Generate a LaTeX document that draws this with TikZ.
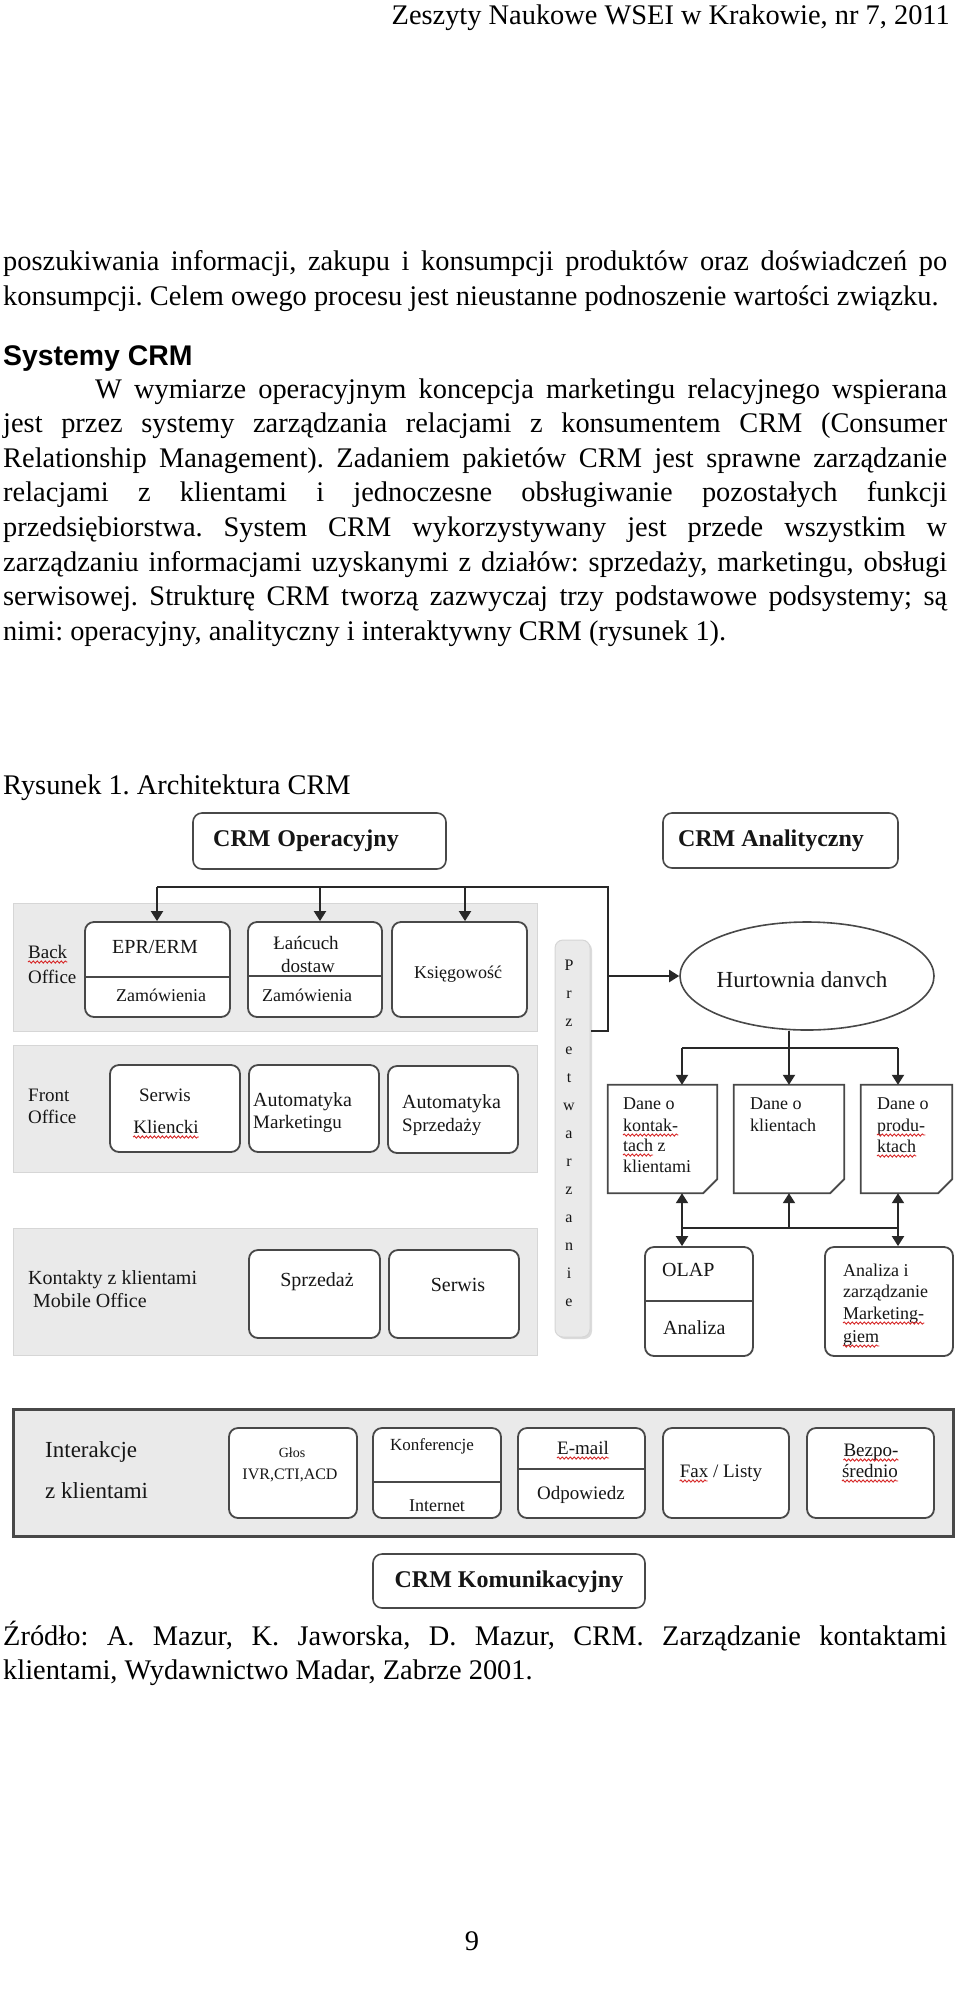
\documentclass[tikz,border=0pt]{standalone}
\usepackage{fontspec}
\setmainfont{Liberation Serif}
\newfontfamily\sansfam{Liberation Sans}
\usetikzlibrary{arrows.meta,shapes.geometric,decorations.pathmorphing}
\definecolor{spellred}{RGB}{215,40,40}
\definecolor{bandfill}{RGB}{234,234,234}
\definecolor{bandline}{RGB}{214,214,214}
\definecolor{boxline}{RGB}{72,72,72}
\definecolor{conline}{RGB}{40,40,40}
\definecolor{txtc}{RGB}{22,22,22}
\frenchspacing
\newcommand\fs[1]{\fontsize{#1}{#1}\selectfont}
\newcommand\mkbox[7]{%
 \pgfmathsetmacro\mbcx{(#2+#4)/2}%
 \pgfmathsetmacro\mbcy{(#3+#5)/2}%
 \pgfmathsetmacro\mbw{#4-#2}%
 \pgfmathsetmacro\mbh{#5-#3}%
 \node[#6, minimum width=\mbw pt, minimum height=\mbh pt] (#1) at (\mbcx,\mbcy) {#7};}
\begin{document}
\begin{tikzpicture}[x=1pt,y=-1pt,
  band/.style={draw=bandline, line width=1pt, fill=bandfill, inner sep=0pt, rectangle},
  iband/.style={draw=boxline, line width=3pt, fill=bandfill, inner sep=0pt, rectangle},
  ibox/.style={draw=boxline, line width=1.8pt, fill=white, rounded corners=9pt, inner sep=0pt, rectangle},
  tbox/.style={draw=boxline, line width=1.6pt, fill=white, rounded corners=9pt, inner sep=0pt, rectangle},
  docb/.style={inner sep=0pt, rectangle},
  divl/.style={draw=boxline, line width=1.8pt},
  lbl/.style={inner sep=0pt, text=txtc, font=\fs{19}},
  t/.style={lbl, anchor=base},
  tl/.style={lbl, anchor=base west},
  con/.style={draw=conline, line width=2pt},
  arr/.style={con, -{Triangle[length=10pt,width=12pt]}},
  darr/.style={con, {Triangle[length=10pt,width=12pt]}-{Triangle[length=10pt,width=12pt]}},
  squig/.style={draw=spellred, line width=0.9pt, decorate, decoration={snake, amplitude=1.1pt, segment length=4pt}},
  body/.style={inner sep=0pt, anchor=base west, font=\fs{28.4}}]
\fill[white] (0,0) rectangle (960,1990);
\useasboundingbox (0,0) rectangle (960,1990);

% ---------- page text ----------
\node[body, anchor=base east] (hdr) at (950,24) {Zeszyty Naukowe WSEI w Krakowie, nr 7, 2011};
\node[body] (p1) at (3,270) {\makebox[944pt][s]{poszukiwania informacji, zakupu i konsumpcji produktów oraz doświadczeń po}};
\node[body] (p2) at (3,305) {konsumpcji. Celem owego procesu jest nieustanne podnoszenie wartości związku.};
\node[body, font=\sansfam\bfseries\fs{28.4}] (hd) at (3,365) {Systemy CRM};
\node[body] (q1) at (95,398) {\makebox[852pt][s]{W wymiarze operacyjnym koncepcja marketingu relacyjnego wspierana}};
\node[body] (q2) at (3,432.6) {\makebox[944pt][s]{jest przez systemy zarządzania relacjami z konsumentem CRM (Consumer}};
\node[body] (q3) at (3,467.2) {\makebox[944pt][s]{Relationship Management). Zadaniem pakietów CRM jest sprawne zarządzanie}};
\node[body] (q4) at (3,501.8) {\makebox[944pt][s]{relacjami z klientami i jednoczesne obsługiwanie pozostałych funkcji}};
\node[body] (q5) at (3,536.4) {\makebox[944pt][s]{przedsiębiorstwa. System CRM wykorzystywany jest przede wszystkim w}};
\node[body] (q6) at (3,571) {\makebox[944pt][s]{zarządzaniu informacjami uzyskanymi z działów: sprzedaży, marketingu, obsługi}};
\node[body] (q7) at (3,605.6) {\makebox[944pt][s]{serwisowej. Strukturę CRM tworzą zazwyczaj trzy podstawowe podsystemy; są}};
\node[body] (q8) at (3,640.2) {nimi: operacyjny, analityczny i interaktywny CRM (rysunek 1).};
\node[body] (rys) at (3,794) {Rysunek 1. Architektura CRM};
\node[body] (zr1) at (3,1645) {\makebox[944pt][s]{Źródło: A. Mazur, K. Jaworska, D. Mazur, CRM. Zarządzanie kontaktami}};
\node[body] (zr2) at (3,1679) {klientami, Wydawnictwo Madar, Zabrze 2001.};
\node[body, anchor=base] (pg) at (472,1950) {9};

% ---------- bands ----------
\mkbox{bob}{13}{903}{537}{1031}{band}{}
\mkbox{fob}{13}{1045}{537}{1172}{band}{}
\mkbox{kob}{13}{1228}{537}{1355}{band}{}
\mkbox{inb}{13}{1409}{953}{1536}{iband}{}
\mkbox{przs}{557}{942}{592}{1339}{rectangle, fill=black!14, rounded corners=8pt, inner sep=0pt}{}
\mkbox{prz}{555}{940}{590}{1337}{band, rounded corners=8pt}{}

% ---------- boxes ----------
\mkbox{opr}{193}{813}{446}{869}{tbox}{}
\mkbox{anl}{663}{813}{898}{868}{tbox}{}
\mkbox{epr}{85}{922}{230}{1017}{ibox}{}
\mkbox{lan}{248}{922}{382}{1017}{ibox}{}
\mkbox{ksi}{392}{922}{527}{1017}{ibox}{}
\mkbox{ser}{110}{1065}{240}{1152}{ibox}{}
\mkbox{aum}{249}{1065}{379}{1152}{ibox}{}
\mkbox{aus}{388}{1066}{518}{1153}{ibox}{}
\mkbox{spr}{249}{1250}{380}{1338}{ibox}{}
\mkbox{srw}{389}{1250}{519}{1338}{ibox}{}
\mkbox{olap}{645}{1247}{753}{1356}{ibox}{}
\mkbox{azm}{825}{1247}{953}{1356}{ibox}{}
\mkbox{glo}{229}{1428}{357}{1518}{ibox}{}
\mkbox{kon}{373}{1428}{501}{1518}{ibox}{}
\mkbox{ema}{518}{1428}{645}{1518}{ibox}{}
\mkbox{fax}{663}{1428}{789}{1518}{ibox}{}
\mkbox{bez}{807}{1428}{934}{1518}{ibox}{}
\mkbox{kom}{373}{1554}{645}{1608}{tbox}{}
\mkbox{d1}{608}{1085}{717}{1193}{docb}{}
\mkbox{d2}{734}{1085}{844}{1193}{docb}{}
\mkbox{d3}{861}{1085}{952}{1193}{docb}{}
\node[ellipse, draw=boxline, line width=1.6pt, fill=white, minimum width=254pt, minimum height=108pt, inner sep=0pt] (hur) at (807,976) {};

% document outlines with folded corner
\foreach \d in {d1,d2,d3}{
  \filldraw[draw=boxline, fill=white, line width=1.8pt, line join=miter]
    (\d.north west) -- (\d.north east) -- ([yshift=14pt]\d.south east)
    -- ([xshift=-14pt]\d.south east) -- (\d.south west) -- cycle;
  \filldraw[draw=boxline, fill=black!12, line width=1.2pt]
    ([yshift=14pt]\d.south east) -- ([xshift=-6pt,yshift=8pt]\d.south east)
    -- ([xshift=-14pt]\d.south east) -- cycle;
}

% dividers
\draw[divl] (epr.west |- 0,977) -- (epr.east |- 0,977);
\draw[divl] (lan.west |- 0,976) -- (lan.east |- 0,976);
\draw[divl] (olap.west |- 0,1301) -- (olap.east |- 0,1301);
\draw[divl] (kon.west |- 0,1482) -- (kon.east |- 0,1482);
\draw[divl] (ema.west |- 0,1469) -- (ema.east |- 0,1469);

% ---------- connectors ----------
\coordinate (tl) at (157,887);
\coordinate (t2) at (320,887);
\coordinate (t3) at (465,887);
\coordinate (tr) at (608,887);
\coordinate (br) at (608,1031);
\draw[con, line join=miter] (tl) -- (tr) -- (br) -- (br -| prz.east);
\draw[arr] (tl) -- (tl |- epr.north);
\draw[arr] (t2) -- (t2 |- lan.north);
\draw[arr] (t3) -- (t3 |- ksi.north);
\draw[arr] (tr |- hur.west) -- (hur.west);

\coordinate (hl) at (682,1048);
\coordinate (hm) at (789,1048);
\coordinate (hr) at (898,1048);
\draw[con] (hm |- hur.south) -- (hm);
\draw[con] (hl) -- (hr);
\draw[arr] (hl) -- (hl |- d1.north);
\draw[arr] (hm) -- (hm |- d2.north);
\draw[arr] (hr) -- (hr |- d3.north);

\coordinate (ll) at (682,1228);
\coordinate (lm) at (789,1228);
\coordinate (lr) at (898,1228);
\draw[con] (ll) -- (lr);
\draw[darr] (ll |- d1.south) -- (ll |- olap.north);
\draw[arr] (lm) -- (lm |- d2.south);
\draw[darr] (lr |- d3.south) -- (lr |- azm.north);

% ---------- diagram texts ----------
\node[t, font=\bfseries\fs{24}] (xopr) at (306,846) {CRM\hspace{7pt}Operacyjny};
\node[t, font=\bfseries\fs{24}] (xanl) at (771,846) {CRM Analityczny};
\node[tl] (xback) at (28,958) {Back};
\node[tl] (xboff) at (28,983) {Office};
\node[t, font=\fs{20}] (xepr) at (155,953) {EPR/ERM};
\node[t, font=\fs{18}] (xz1) at (161,1001) {Zamówienia};
\node[t] (xlan) at (306,949) {Łańcuch};
\node[t] (xdos) at (308,972) {dostaw};
\node[t, font=\fs{18}] (xz2) at (307,1001) {Zamówienia};
\node[t, font=\fs{18}] (xksi) at (458,978) {Księgowość};
\node[tl] (xfr) at (28,1101) {Front};
\node[tl] (xfoff) at (28,1123) {Office};
\node[t] (xser) at (165,1101) {Serwis};
\node[t] (xkli) at (166,1133) {Kliencki};
\node[tl, font=\fs{20}] (xam1) at (253,1106) {Automatyka};
\node[tl] (xam2) at (253,1128) {Marketingu};
\node[tl, font=\fs{20}] (xas1) at (402,1108) {Automatyka};
\node[tl] (xas2) at (402,1131) {Sprzedaży};
\node[tl, font=\fs{20}] (xkon1) at (28,1284) {Kontakty z klientami};
\node[tl, font=\fs{20}] (xkon2) at (33,1307) {Mobile Office};
\node[t, font=\fs{20}] (xspr) at (317,1286) {Sprzedaż};
\node[t, font=\fs{20}] (xsrw) at (458,1291) {Serwis};
\node[t, font=\fs{23}] (xhur) at (802,987) {Hurtownia danvch};
\foreach \ch [count=\i from 0] in {P,r,z,e,t,w,a,r,z,a,n,i,e}
  \node[t, font=\fs{16}] (pz\i) at (569,970+28*\i) {\ch};
\node[tl, font=\fs{18}] (xd1a) at (623,1109) {Dane o};
\node[tl, font=\fs{18}] (xd1b) at (623,1131) {kontak-};
\node[tl, font=\fs{18}] (xd1c) at (623,1151) {tach z};
\node[tl, font=\fs{18}] (xd1d) at (623,1172) {klientami};
\node[tl, font=\fs{18}] (xd2a) at (750,1109) {Dane o};
\node[tl, font=\fs{18}] (xd2b) at (750,1131) {klientach};
\node[tl, font=\fs{18}] (xd3a) at (877,1109) {Dane o};
\node[tl, font=\fs{18}] (xd3b) at (877,1131) {produ-};
\node[tl, font=\fs{18}] (xd3c) at (877,1152) {ktach};
\node[tl, font=\fs{20}] (xolap) at (662,1276) {OLAP};
\node[tl, font=\fs{20}] (xanz) at (663,1334) {Analiza};
\node[tl, font=\fs{18}] (xa1) at (843,1276) {Analiza i};
\node[tl, font=\fs{18}] (xa2) at (843,1297) {zarządzanie};
\node[tl, font=\fs{18}] (xa3) at (843,1319) {Marketing-};
\node[tl, font=\fs{18}] (xa4) at (843,1342) {giem};
\node[tl, font=\fs{23}] (xint1) at (45,1457) {Interakcje};
\node[tl, font=\fs{23}] (xint2) at (45,1498) {z klientami};
\node[t, font=\fs{14}] (xglos) at (292,1457) {Głos};
\node[t, font=\fs{16}] (xivr) at (290,1479) {IVR,CTI,ACD};
\node[t, font=\fs{17}] (xkonf) at (432,1450) {Konferencje};
\node[t, font=\fs{18}] (xinet) at (437,1511) {Internet};
\node[t, font=\fs{19}] (xmail) at (583,1454) {E-mail};
\node[t, font=\fs{19}] (xodp) at (581,1499) {Odpowiedz};
\node[t, font=\fs{19}] (xfax) at (721,1477) {Fax / Listy};
\node[t, font=\fs{19}] (xbez1) at (871,1456) {Bezpo-};
\node[t, font=\fs{19}] (xbez2) at (870,1477) {średnio};
\node[t, font=\bfseries\fs{24}] (xkom) at (509,1587) {CRM Komunikacyjny};

% ---------- spell-check squiggles ----------
\foreach \n in {xback,xkli,xd1b,xd3b,xd3c,xa3,xa4,xmail,xbez1,xbez2}
  \draw[squig] ([yshift=-4pt]\n.base west) -- ([yshift=-4pt]\n.base east);
\draw[squig] ([yshift=-4pt]xd1c.base west) -- ([xshift=30pt,yshift=-4pt]xd1c.base west);
\draw[squig] ([yshift=-4pt]xfax.base west) -- ([xshift=28pt,yshift=-4pt]xfax.base west);
\end{tikzpicture}
\end{document}
